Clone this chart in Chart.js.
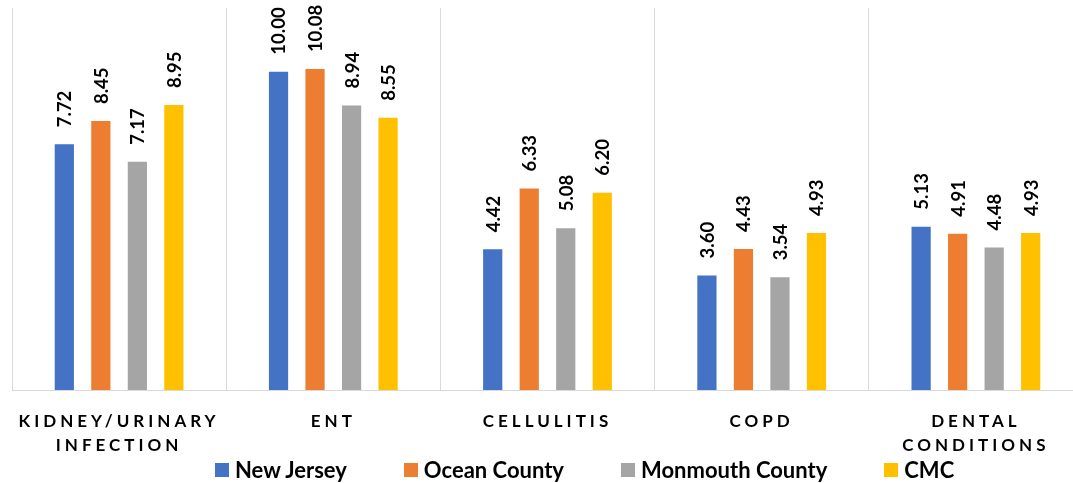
<!DOCTYPE html>
<html>
<head>
<meta charset="utf-8">
<script src="https://cdn.jsdelivr.net/npm/chart.js@4"></script>
<style>
  html, body { margin: 0; padding: 0; background: #fff; overflow: hidden; }
  #wrap { position: relative; width: 1073px; height: 483px; overflow: hidden; }
  #box { position: absolute; left: 0; top: 0; width: 1100px; height: 483px; }
  #legend {
    position: absolute; left: 215px; top: 456px;
    display: flex; align-items: center; gap: 57px;
    font: bold 22px Lato, sans-serif; color: #000; white-space: nowrap;
  }
  #legend span.item { display: inline-flex; align-items: center; }
  #legend span.sw { display: inline-block; width: 14px; height: 14px; margin-right: 6px; }
</style>
</head>
<body>
<div id="wrap">
  <div id="box"><canvas id="myChart" width="1100" height="483"></canvas></div>
  <div id="legend"></div>
</div>
<script>
const categorias = [['KIDNEY/URINARY', 'INFECTION'], 'ENT', 'CELLULITIS', 'COPD', ['DENTAL', 'CONDITIONS']];
const series = ['New Jersey', 'Ocean County', 'Monmouth County', 'CMC'];
const newJersey = [7.72, 10.00, 4.42, 3.60, 5.13];
const oceanCounty = [8.45, 10.08, 6.33, 4.43, 4.91];
const monmouthCounty = [7.17, 8.94, 5.08, 3.54, 4.48];
const cmc = [8.95, 8.55, 6.20, 4.93, 4.93];
const colores = ['#4472C4', '#ED7D31', '#A5A5A5', '#FFC000'];

// spaced letters on the axis labels only
const espaciado = {
    id: 'espaciado',
    beforeDraw(chart) { chart.ctx.letterSpacing = '4px'; },
    beforeDatasetsDraw(chart) { chart.ctx.letterSpacing = '0px'; }
};

// rotated value labels above each bar
const etiquetas = {
    id: 'etiquetas',
    afterDatasetsDraw(chart) {
        const ctx = chart.ctx;
        ctx.save();
        ctx.letterSpacing = '0px';
        ctx.font = 'bold 18.5px Lato, sans-serif';
        ctx.fillStyle = '#000';
        ctx.textAlign = 'left';
        ctx.textBaseline = 'middle';
        chart.data.datasets.forEach((ds, i) => {
            chart.getDatasetMeta(i).data.forEach((bar, j) => {
                ctx.save();
                ctx.translate(bar.x + 1, bar.y - 17);
                ctx.rotate(-Math.PI / 2);
                ctx.fillText(ds.data[j].toFixed(2), 0, 0);
                ctx.restore();
            });
        });
        ctx.restore();
    }
};

const valores = [newJersey, oceanCounty, monmouthCounty, cmc];

const ctx = document.getElementById('myChart').getContext('2d');
const myChart = new Chart(ctx, {
    type: 'bar',
    data: {
        labels: categorias,
        datasets: series.map((s, i) => ({
            label: s,
            data: valores[i],
            backgroundColor: colores[i],
            categoryPercentage: 0.682,
            barPercentage: 0.526
        }))
    },
    options: {
        responsive: false,
        animation: false,
        layout: { padding: { left: 12, right: 17, top: 8, bottom: 0 } },
        scales: {
            x: {
                grid: { color: '#D9D9D9', drawTicks: false, offset: true },
                border: { color: '#D9D9D9' },
                ticks: {
                    color: '#000',
                    font: { family: 'Lato', weight: 'bold', size: 17, lineHeight: 1.45 },
                    padding: 19,
                    maxRotation: 0,
                    autoSkip: false
                },
                afterFit: s => { s.height = 93; }
            },
            y: {
                display: false,
                min: 0,
                max: 12
            }
        },
        plugins: {
            legend: { display: false },
            tooltip: { enabled: false }
        }
    },
    plugins: [espaciado, etiquetas]
});

const leyenda = document.getElementById('legend');
series.forEach((s, i) => {
    const item = document.createElement('span');
    item.className = 'item';
    item.innerHTML = '<span class="sw" style="background:' + colores[i] + '"></span>' + s;
    leyenda.appendChild(item);
});
</script>
</body>
</html>
